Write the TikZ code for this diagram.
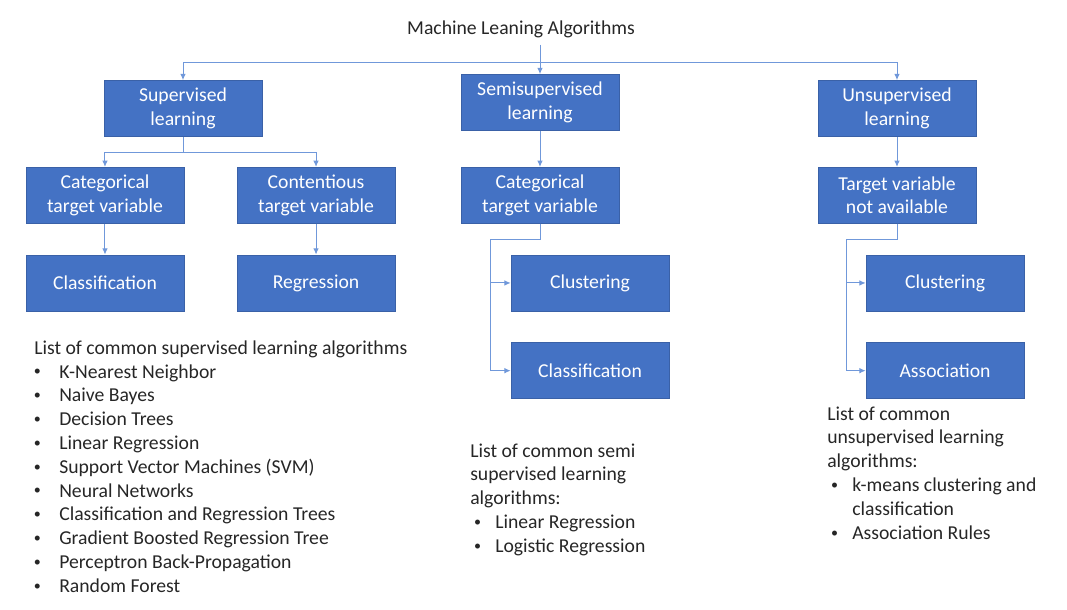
\documentclass[tikz,border=0pt]{standalone}
\usepackage{fontspec}
\setmainfont{Carlito}
\usetikzlibrary{arrows.meta,positioning}
\definecolor{boxblue}{HTML}{4472C4}
\definecolor{lineblue}{HTML}{7098DA}
\definecolor{textgray}{HTML}{262626}

\begin{document}
\begin{tikzpicture}[
        x=0.025cm, y=-0.025cm,
        every node/.style={
            inner sep=0pt,
            font=\fontsize{14}{17}\selectfont
        },
        box/.style={
            rectangle,
            minimum width=3.95cm,
            minimum height=1.4cm,
            align=center,
            draw=boxblue!85!black,
            line width=0.5pt,
            fill=boxblue,
            text=white
        },
        listline/.style={anchor=base west, text=textgray},
        bulletmark/.style={anchor=base, text=textgray, font=\fontsize{10}{12}\selectfont},
        line/.style={draw=lineblue, line width=0.7pt},
        arrow/.style={line, -{Latex[length=4.5pt,width=4pt]}}
    ]
    \useasboundingbox (0,0) rectangle (1067,610);

    % Title
    \node (title) [anchor=base, text=textgray] at (521,35) {Machine Leaning Algorithms};

    % Top Row
    \node (sup) [box] at (183,108.5) {Supervised\\learning};
    \node (semi) [box] at (540,102.5) {Semisupervised\\learning};
    \node (unsup) [box] at (897,108.5) {Unsupervised\\learning};

    % Second Row
    \node (supcat) [box, below=0.75cm of sup, xshift=-1.95cm] {Categorical\\target variable};
    \node (supcon) [box, below=0.75cm of sup, xshift=3.325cm] {Contentious\\target variable};
    \node (semicat) [box, below=0.9cm of semi] {Categorical\\target variable};
    \node (unsupna) [box, below=0.75cm of unsup] {Target variable\\not available};

    % Bottom Rows
    \node (supclass) [box, below=0.775cm of supcat] {Classification};
    \node (supreg) [box, below=0.775cm of supcon] {Regression};
    \node (semiclust) [box, below=0.775cm of semicat, xshift=1.25cm] {Clustering};
    \node (semiclass) [box, below=0.775cm of semiclust] {Classification};
    \node (unsupclust) [box, below=0.775cm of unsupna, xshift=1.2cm] {Clustering};
    \node (unsupassoc) [box, below=0.775cm of unsupclust] {Association};

    % Arrows
    \coordinate (bus) at (540,62);
    \draw [arrow] ([yshift=-0.15cm]title.south -| semi.north) -- (semi.north);
    \draw [arrow] (bus) -| (sup.north);
    \draw [arrow] (bus) -| (unsup.north);
    \draw [arrow] (sup.south) -- ++(0,16) -| (supcat.north);
    \draw [arrow] (sup.south) -- ++(0,16) -| (supcon.north);
    \draw [arrow] (supcat) -- (supclass);
    \draw [arrow] (supcon) -- (supreg);
    \draw [arrow] (semi) -- (semicat);
    \draw [arrow] (unsup) -- (unsupna);
    \draw [arrow] (semicat.south) -- ++(0,16) -| ([xshift=-0.5cm]semiclust.west) -- (semiclust.west);
    \draw [arrow] (semicat.south) -- ++(0,16) -| ([xshift=-0.5cm]semiclass.west) -- (semiclass.west);
    \draw [arrow] (unsupna.south) -- ++(0,16) -| ([xshift=-0.475cm]unsupclust.west) -- (unsupclust.west);
    \draw [arrow] (unsupna.south) -- ++(0,16) -| ([xshift=-0.475cm]unsupassoc.west) -- (unsupassoc.west);

    % Lists
    \node (suplist) [listline] at (34,354.2) {List of common supervised learning algorithms};
    \foreach \alg [count=\i] in {K-Nearest Neighbor, Naive Bayes, Decision Trees,
        Linear Regression, Support Vector Machines (SVM), Neural Networks,
        Classification and Regression Trees, Gradient Boosted Regression Tree,
        Perceptron Back-Propagation, Random Forest} {
        \node (supb\i) [bulletmark] at (37.5,352+23.8*\i) {\textbullet};
        \node (supa\i) [listline] at (59,354.2+23.8*\i) {\alg};
    }

    \foreach \ln [count=\i from 0] in {List of common semi, supervised learning, algorithms:}
        \node (semih\i) [listline] at (470,457+23.8*\i) {\ln};
    \foreach \alg [count=\i from 3] in {Linear Regression, Logistic Regression} {
        \node (semib\i) [bulletmark] at (477.5,455+23.8*\i) {\textbullet};
        \node (semia\i) [listline] at (495,457+23.8*\i) {\alg};
    }

    \foreach \ln [count=\i from 0] in {List of common, unsupervised learning, algorithms:}
        \node (unsuph\i) [listline] at (827,420+23.8*\i) {\ln};
    \node (unsupb1) [bulletmark] at (834.5,489.4) {\textbullet};
    \node (unsupa1) [listline] at (852,491.4) {k-means clustering and};
    \node (unsupa2) [listline] at (852,515.2) {classification};
    \node (unsupb3) [bulletmark] at (834.5,537) {\textbullet};
    \node (unsupa3) [listline] at (852,539) {Association Rules};

    \end{tikzpicture}
\end{document}
